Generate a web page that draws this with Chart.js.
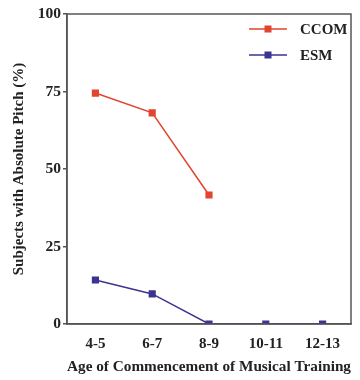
<!DOCTYPE html>
<html>
<head>
<meta charset="utf-8">
<script src="https://cdn.jsdelivr.net/npm/chart.js@4"></script>
<style>
  html, body { margin: 0; padding: 0; background: #fff; }
  #wrap { width: 360px; height: 380px; }
</style>
</head>
<body>
<div id="wrap"><canvas id="chart" width="360" height="380"></canvas></div>
<script>
// categories and values
const ageGroups = ['4-5', '6-7', '8-9', '10-11', '12-13'];
const ccomValues = [74.5, 68.1, 41.6, null, null];
const esmValues = [14.2, 9.7, 0, 0, 0];
const yTicks = [0, 25, 50, 75, 100];

const serif = '"Liberation Serif", "Times New Roman", serif';
const red = '#e2452f';
const blue = '#3b3591';

// frame round the plot
const framePlugin = {
    id: 'frame',
    afterDatasetsDraw(chart) {
        const a = chart.chartArea;
        const ctx = chart.ctx;
        ctx.save();
        ctx.strokeStyle = '#555';
        ctx.lineWidth = 1.5;
        ctx.strokeRect(a.left, a.top, a.right - a.left, a.bottom - a.top);
        ctx.restore();
    }
};

// legend inside the plot, line + square marker
const legendPlugin = {
    id: 'boxLegend',
    afterDatasetsDraw(chart) {
        const ctx = chart.ctx;
        const a = chart.chartArea;
        ctx.save();
        chart.data.datasets.forEach((ds, i) => {
            const y = a.top + 15 + i * 26;
            const x0 = a.right - 102;
            ctx.strokeStyle = ds.borderColor;
            ctx.lineWidth = 1.5;
            ctx.beginPath();
            ctx.moveTo(x0, y);
            ctx.lineTo(x0 + 38, y);
            ctx.stroke();
            ctx.fillStyle = ds.backgroundColor;
            ctx.fillRect(x0 + 19 - 3.5, y - 3.5, 7, 7);
            ctx.fillStyle = '#222';
            ctx.font = 'bold 15px ' + serif;
            ctx.textBaseline = 'middle';
            ctx.fillText(ds.label, x0 + 51, y + 1);
        });
        ctx.restore();
    }
};

new Chart(document.getElementById('chart').getContext('2d'), {
    type: 'line',
    data: {
        labels: ageGroups,
        datasets: [
            {
                label: 'CCOM',
                data: ccomValues,
                borderColor: red,
                backgroundColor: red,
                borderWidth: 1.5,
                pointStyle: 'rect',
                pointRadius: 4,
                pointHoverRadius: 4,
                tension: 0,
                spanGaps: false
            },
            {
                label: 'ESM',
                data: esmValues,
                borderColor: blue,
                backgroundColor: blue,
                borderWidth: 1.5,
                pointStyle: 'rect',
                pointRadius: 4,
                pointHoverRadius: 4,
                tension: 0
            }
        ]
    },
    options: {
        responsive: false,
        animation: false,
        layout: { padding: { top: 14, right: 9, left: 0, bottom: 0 } },
        plugins: {
            legend: { display: false },
            tooltip: { enabled: false }
        },
        scales: {
            x: {
                offset: true,
                grid: { display: false },
                border: { display: true, color: '#555', width: 1.5 },
                ticks: { color: '#222', padding: 3, font: { family: serif, size: 15, weight: 'bold' } },
                title: {
                    display: true,
                    text: 'Age of Commencement of Musical Training',
                    color: '#222',
                    padding: { top: 10, bottom: 4 },
                    font: { family: serif, size: 15.5, weight: 'bold' }
                },
                afterFit(scale) { scale.height = 56; }
            },
            y: {
                min: 0,
                max: 100,
                afterBuildTicks(scale) { scale.ticks = yTicks.map(v => ({ value: v })); },
                grid: { display: true, drawOnChartArea: false, drawTicks: true, tickLength: 4, color: '#555', lineWidth: 1.5 },
                border: { display: true, color: '#555', width: 1.5 },
                ticks: { color: '#222', padding: 2, font: { family: serif, size: 15.5, weight: 'bold' } },
                title: {
                    display: true,
                    text: 'Subjects with Absolute Pitch (%)',
                    color: '#222',
                    padding: { top: 10, bottom: 6 },
                    font: { family: serif, size: 15, weight: 'bold' }
                },
                afterFit(scale) { scale.width = 67; }
            }
        }
    },
    plugins: [framePlugin, legendPlugin]
});
</script>
</body>
</html>
